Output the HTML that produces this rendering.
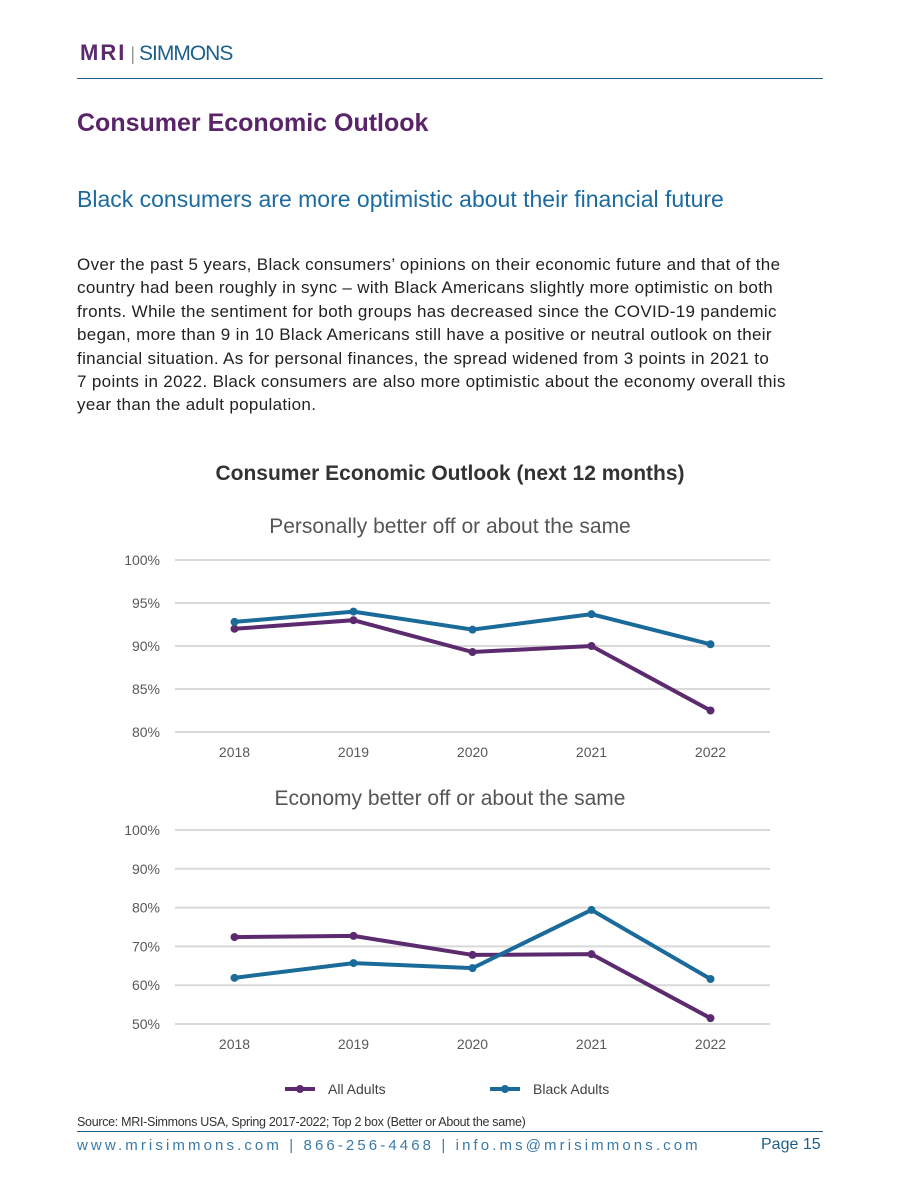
<!DOCTYPE html>
<html><head><meta charset="utf-8"><style>
body{margin:0;width:900px;height:1200px;background:#fff;font-family:"Liberation Sans",sans-serif;position:relative;overflow:hidden}
.abs{position:absolute}
</style></head><body>
<div class="abs" style="left:80px;top:40px;font-size:22px;line-height:26px;white-space:nowrap">
<span style="color:#5a2a6b;font-weight:bold;letter-spacing:2px">MRI</span><span style="color:#999;font-size:18px;margin:0 4px">|</span><span style="color:#1e5f8a;font-size:21px;letter-spacing:-1px">SIMMONS</span></div>
<div class="abs" style="left:77px;top:78px;width:746px;height:1px;background:#1e5f8a"></div>
<div class="abs" style="left:77px;top:109px;font-size:25px;font-weight:bold;color:#5a2468">Consumer Economic Outlook</div>
<div class="abs" style="left:77px;top:186px;font-size:23px;color:#1b6aa0">Black consumers are more optimistic about their financial future</div>
<div class="abs" style="left:77px;top:253px;width:716px;font-size:17px;letter-spacing:0.34px;line-height:23.4px;color:#222">Over the past 5 years, Black consumers’ opinions on their economic future and that of the country had been roughly in sync – with Black Americans slightly more optimistic on both fronts. While the sentiment for both groups has decreased since the COVID-19 pandemic began, more than 9 in 10 Black Americans still have a positive or neutral outlook on their financial situation. As for personal finances, the spread widened from 3 points in 2021 to<br>7 points in 2022. Black consumers are also more optimistic about the economy overall this year than the adult population.</div>
<svg class="abs" style="left:0;top:0" width="900" height="1200" id="chart"></svg>
<div class="abs" style="left:77px;top:1115px;font-size:12.5px;color:#333;letter-spacing:-0.3px">Source: MRI-Simmons USA, Spring 2017-2022; Top 2 box (Better or About the same)</div>
<div class="abs" style="left:77px;top:1131px;width:746px;height:1px;background:#1e5f8a"></div>
<div class="abs" style="left:77px;top:1137px;font-size:15px;color:#3a7aa8;letter-spacing:3.1px">www.mrisimmons.com | 866-256-4468 | info.ms@mrisimmons.com</div>
<div class="abs" style="left:761px;top:1136px;font-size:16px;color:#1e5f8a">Page 15</div>
<script>
const years=["2018","2019","2020","2021","2022"];
const personalAll=[92.0,93.0,89.3,90.0,82.5];
const personalBlack=[92.8,94.0,91.9,93.7,90.2];
const economyAll=[72.4,72.7,67.8,68.0,51.5];
const economyBlack=[61.9,65.7,64.4,79.4,61.6];
const ticks1=[80,85,90,95,100];
const ticks2=[50,60,70,80,90,100];
const svg=document.getElementById('chart');
const NS="http://www.w3.org/2000/svg";
function mk(t,a,p){const e=document.createElementNS(NS,t);for(const k in a)e.setAttribute(k,a[k]);(p||svg).appendChild(e);return e;}
const x0=175,x1=770;
function xs(i){return x0+(x1-x0)*(i+0.5)/years.length;}
let t=mk('text',{x:450,y:480,'text-anchor':'middle','font-size':21,'font-weight':'bold',fill:'#333'});t.textContent='Consumer Economic Outlook (next 12 months)';


function panel(name,title,ty,yTop,yBot,ticks,all,black,labY,fmt){
 const mn=ticks[0],mx=ticks[ticks.length-1];
 const ys=v=>yBot-(v-mn)/(mx-mn)*(yBot-yTop);
 const g=mk('g',{});
 
 
 let tt=mk('text',{x:450,y:ty,'text-anchor':'middle','font-size':21,fill:'#555'},g);tt.textContent=title;
 
 
 ticks.forEach(v=>{
  const l=mk('line',{x1:x0,x2:x1,y1:ys(v),y2:ys(v),stroke:'#d9d9d9','stroke-width':2},g);
  
  
  const tx=mk('text',{x:160,y:ys(v)+5,'text-anchor':'end','font-size':14,fill:'#595959'},g);tx.textContent=fmt(v);
  
  
 });
 years.forEach((y,i)=>{const tx=mk('text',{x:xs(i),y:labY,'text-anchor':'middle','font-size':14,fill:'#595959'},g);tx.textContent=y;
  
  });
 [[all,'#5c2a6e','all-adults'],[black,'#1a6a9a','black-adults']].forEach(([d,c,n])=>{
  const p=mk('polyline',{points:d.map((v,i)=>xs(i)+','+ys(v)).join(' '),fill:'none',stroke:c,'stroke-width':4},g);
  
  
  d.forEach((v,i)=>{const m=mk('circle',{cx:xs(i),cy:ys(v),r:4,fill:c},g);
   
   });
 });
}
panel('personal-chart','Personally better off or about the same',533,560,732,ticks1,personalAll,personalBlack,757,v=>v===100?'100%':v+'%');
panel('economy-chart','Economy better off or about the same',805,830,1024,ticks2,economyAll,economyBlack,1049,v=>v+'%');
[[285,'#5c2a6e','All Adults','legend-all-adults'],[490,'#1a6a9a','Black Adults','legend-black-adults']].forEach(([lx,c,lab,n])=>{
 const g=mk('g',{});
 
 
 mk('line',{x1:lx,x2:lx+30,y1:1089,y2:1089,stroke:c,'stroke-width':4},g);
 mk('circle',{cx:lx+15,cy:1089,r:4,fill:c},g);
 const tx=mk('text',{x:lx+43,y:1094,'font-size':14,fill:'#404040'},g);tx.textContent=lab;
});
</script>
</body></html>
